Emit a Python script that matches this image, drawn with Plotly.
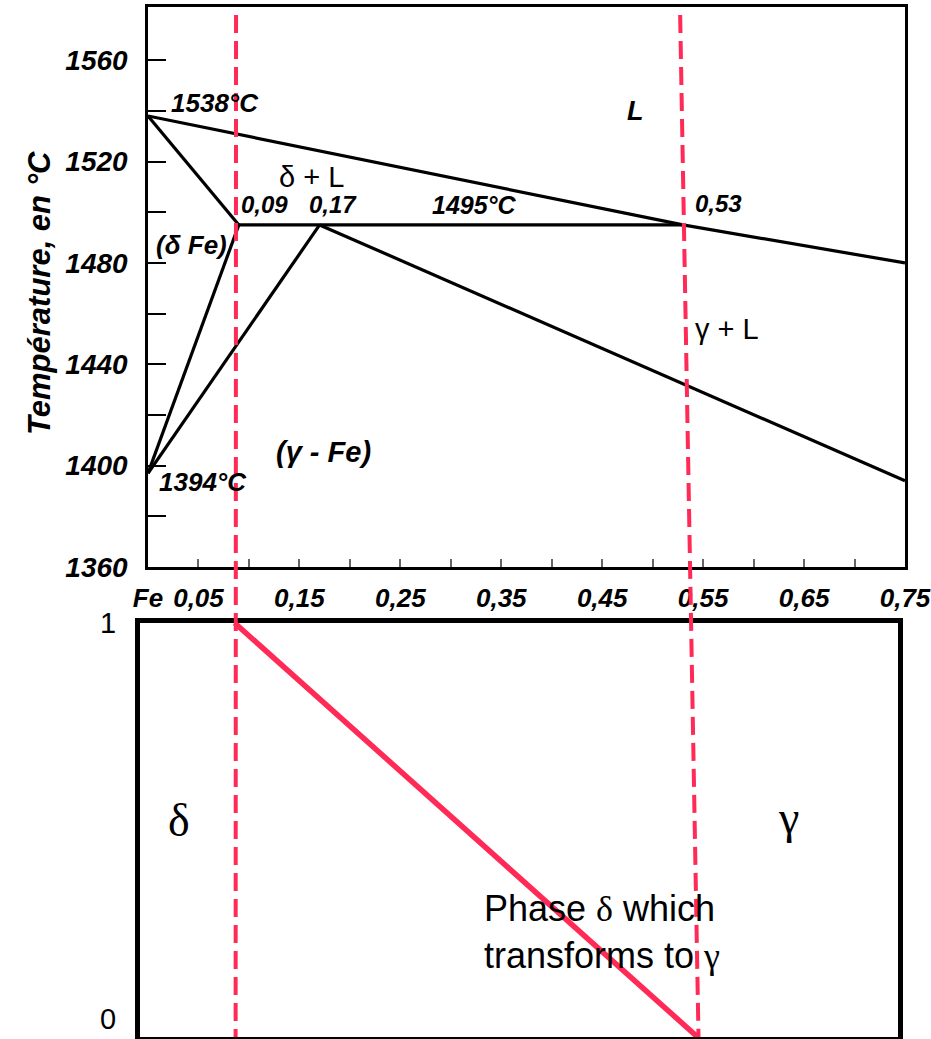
import plotly.graph_objects as go

W, H = 931, 1039

# ---------------- data: Fe-C peritectic region (wt% C, deg C) ----------------
liquidus_c = [0.0, 0.53, 0.75]
liquidus_t = [1538, 1495, 1480]
delta_solidus_c = [0.0, 0.09]
delta_solidus_t = [1538, 1495]
peritectic_c = [0.09, 0.53]
peritectic_t = [1495, 1495]
delta_solvus_c = [0.09, 0.0]
delta_solvus_t = [1495, 1397]
gamma_solvus_c = [0.17, 0.0]
gamma_solvus_t = [1495, 1397]
gamma_solidus_c = [0.17, 0.75]
gamma_solidus_t = [1495, 1394]

# lower panel: fraction of delta transforming to gamma
frac_c = [0.09, 0.53]
frac_v = [1, 0]

# composition markers (dashed lines)
marker_c = [0.09, 0.53]

# ticks
x_tick_vals = [0.0, 0.05, 0.10, 0.15, 0.20, 0.25, 0.30, 0.35, 0.40, 0.45, 0.50, 0.55, 0.60, 0.65, 0.70, 0.75]
x_tick_text = ["Fe", "0,05", "", "0,15", "", "0,25", "", "0,35", "", "0,45", "", "0,55", "", "0,65", "", "0,75"]
y_tick_vals = [1360, 1380, 1400, 1420, 1440, 1460, 1480, 1500, 1520, 1540, 1560]
y_tick_text = ["1360", "", "1400", "", "1440", "", "1480", "", "1520", "", "1560"]
low_tick_vals = [0, 1]
low_tick_text = ["0", "1"]

# ---------------- layout geometry ----------------
top_xdom = [148 / W, 905 / W]
top_ydom = [(H - 567) / H, (H - 7) / H]
top_xrange = [0, 0.75]
top_yrange = [1360, 1581]
bot_xdom = [140 / W, 898 / W]
bot_ydom = [(H - 1037) / H, (H - 623) / H]
bot_xrange = [0, 0.7205]
bot_yrange = [0, 1]

SANS = "Liberation Sans, Arial, sans-serif"
SERIF = "Liberation Serif, Times New Roman, serif"
RED = "#ff2a55"

fig = go.Figure()

curves = [
    (liquidus_c, liquidus_t),
    (delta_solidus_c, delta_solidus_t),
    (peritectic_c, peritectic_t),
    (delta_solvus_c, delta_solvus_t),
    (gamma_solvus_c, gamma_solvus_t),
    (gamma_solidus_c, gamma_solidus_t),
]
for cx, ct in curves:
    fig.add_trace(go.Scatter(x=cx, y=ct, mode="lines", xaxis="x", yaxis="y",
                             line=dict(color="black", width=3.2), showlegend=False,
                             hoverinfo="skip"))

fig.add_trace(go.Scatter(x=frac_c, y=frac_v, mode="lines", xaxis="x2", yaxis="y2",
                         line=dict(color=RED, width=5.5), showlegend=False,
                         hoverinfo="skip"))


def xp_top(c):
    return top_xdom[0] + (c - top_xrange[0]) / (top_xrange[1] - top_xrange[0]) * (top_xdom[1] - top_xdom[0])


def xp_bot(c):
    return bot_xdom[0] + (c - bot_xrange[0]) / (bot_xrange[1] - bot_xrange[0]) * (bot_xdom[1] - bot_xdom[0])


shapes = []
for c in marker_c:
    shapes.append(dict(type="line", xref="paper", yref="paper",
                       x0=xp_top(c) - 0.003, y0=(H - 15) / H,
                       x1=xp_bot(c) + 0.001, y1=bot_ydom[0],
                       line=dict(color=RED, width=4, dash="18px,8px"), layer="above"))

it = dict(family=SANS, size=26, color="black", style="italic", weight="bold")
ann = []


def A(x, y, text, font, xanchor="left", xref="x", yref="y", **kw):
    d = dict(x=x, y=y, text=text, xref=xref, yref=yref, showarrow=False,
             xanchor=xanchor, yanchor="middle", font=font)
    d.update(kw)
    ann.append(d)


A(0.021, 1543, "1538°C", it)
A(0.090, 1503, "0,09", dict(it, size=24))
A(0.158, 1503, "0,17", dict(it, size=24))
A(0.279, 1503, "1495°C", dict(it, size=25))
A(0.540, 1503.5, "0,53", dict(it, size=24))
A(0.4826, 1540, "L", dict(it, size=27), xanchor="center")
A(0.006, 1487, "(δ Fe)", dict(it, size=26))
A(0.009, 1393.5, "1394°C", it)
A(0.125, 1405.5, "(γ - Fe)", dict(it, size=29))
A(0.128, 1514, "δ + L", dict(family=SANS, size=29, color="black"))
A(0.540, 1454, "γ + L", dict(family=SANS, size=29, color="black"))

# y axis title
A(40 / W, (H - 293) / H, "Température, en °C",
  dict(family=SANS, size=31, color="black", style="italic", weight="bold"),
  xanchor="center", xref="paper", yref="paper", textangle=-90)

# lower panel labels
A(0.037, 0.524, "δ", dict(family=SERIF, size=46, color="black"), xanchor="center", xref="x2", yref="y2")
A(0.616, 0.529, "γ", dict(family=SERIF, size=46, color="black"), xanchor="center", xref="x2", yref="y2")
A(0.325, 0.254,
  "Phase <span style='font-family:Liberation Serif'>δ</span> which<br>transforms to <span style='font-family:Liberation Serif'>γ</span>",
  dict(family=SANS, size=36, color="black"), xref="x2", yref="y2", align="left")
for v, t in zip(low_tick_vals, low_tick_text):
    A(0, v, t, dict(family=SANS, size=29, color="black"), xanchor="right", xref="x2", yref="y2",
      xshift=-22, yanchor="bottom" if v == 0 else "middle")

fig.update_layout(
    width=W, height=H,
    margin=dict(l=0, r=0, t=0, b=0),
    paper_bgcolor="white", plot_bgcolor="white",
    template="none",
    showlegend=False,
    shapes=shapes,
    annotations=ann,
    xaxis=dict(domain=top_xdom, range=top_xrange, anchor="y",
               showline=True, linecolor="black", linewidth=2.5, mirror=True,
               showgrid=False, zeroline=False,
               tickmode="array", tickvals=x_tick_vals, ticktext=x_tick_text,
               ticks="inside", ticklen=8, tickwidth=1.5, tickcolor="#666",
               ticklabelstandoff=6,
               tickfont=dict(family=SANS, size=26, color="black", style="italic", weight="bold"),
               automargin=False, fixedrange=True),
    yaxis=dict(domain=top_ydom, range=top_yrange, anchor="x",
               showline=True, linecolor="black", linewidth=2.5, mirror=True,
               showgrid=False, zeroline=False,
               tickmode="array", tickvals=y_tick_vals, ticktext=y_tick_text,
               ticks="inside", ticklen=18, tickwidth=2, tickcolor="black",
               ticklabelstandoff=12,
               tickfont=dict(family=SANS, size=28, color="black", style="italic", weight="bold"),
               automargin=False, fixedrange=True),
    xaxis2=dict(domain=bot_xdom, range=bot_xrange, anchor="y2",
                showline=True, linecolor="black", linewidth=4.5, mirror=True,
                showgrid=False, zeroline=False, showticklabels=False, ticks="",
                automargin=False, fixedrange=True),
    yaxis2=dict(domain=bot_ydom, range=bot_yrange, anchor="x2",
                showline=True, linecolor="black", linewidth=4.5, mirror=True,
                showgrid=False, zeroline=False, showticklabels=False, ticks="",
                automargin=False, fixedrange=True),
)

fig.write_html("out.html")
